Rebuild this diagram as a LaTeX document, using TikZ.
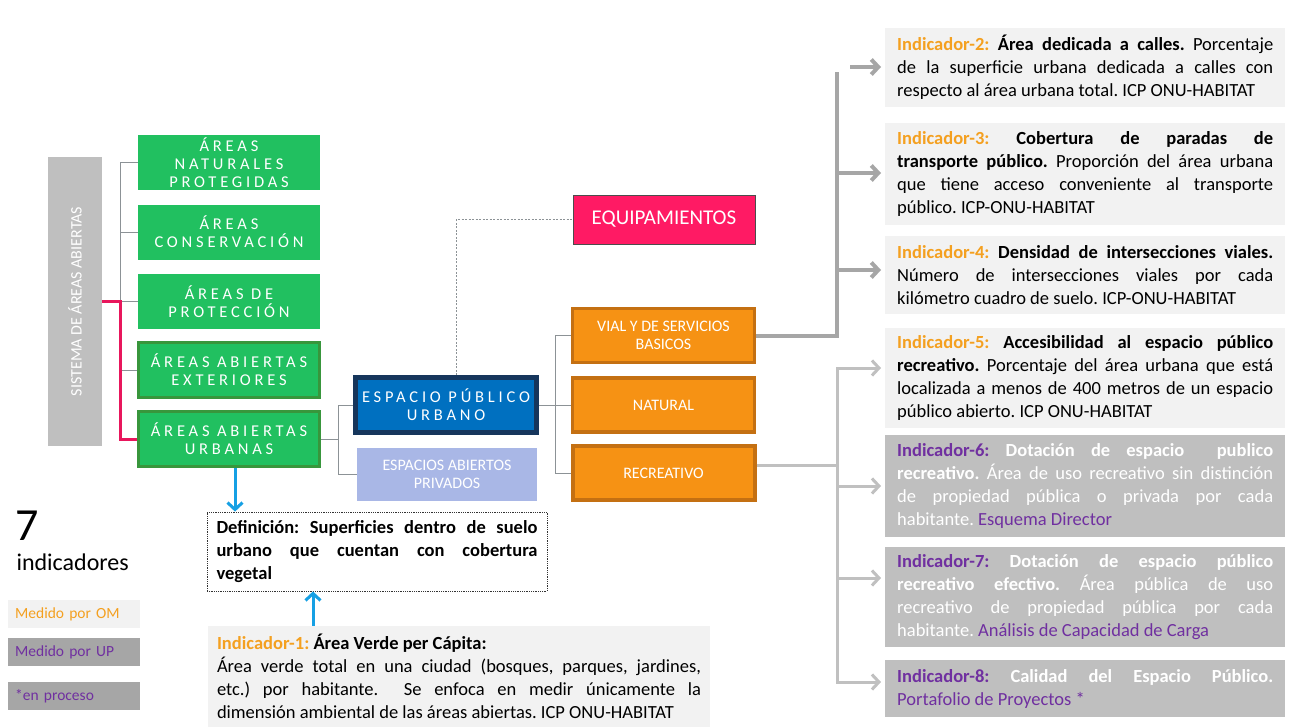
\documentclass[tikz,border=0pt]{standalone}
\usepackage{fontspec}
\setmainfont{Carlito}
\newfontfamily\spacedfont[LetterSpace=23]{Carlito}
\usetikzlibrary{arrows.meta}
\setlength{\parindent}{0pt}
\tolerance=10000
\hbadness=10000
\frenchspacing

\definecolor{grnfill}{RGB}{33,192,96}
\definecolor{grnedge}{RGB}{56,150,60}
\definecolor{orgfill}{RGB}{246,146,20}
\definecolor{orgedge}{RGB}{196,112,18}
\definecolor{bluein}{RGB}{0,112,192}
\definecolor{navy}{RGB}{22,54,92}
\definecolor{lavender}{RGB}{169,183,230}
\definecolor{hotpink}{RGB}{255,26,100}
\definecolor{magline}{RGB}{232,22,92}
\definecolor{sysgray}{RGB}{191,191,191}
\definecolor{lightbox}{RGB}{242,242,242}
\definecolor{darkbox}{RGB}{191,191,191}
\definecolor{legdark}{RGB}{166,166,166}
\definecolor{indorange}{RGB}{244,160,32}
\definecolor{indpurple}{RGB}{112,48,160}
\definecolor{thinline}{RGB}{140,146,150}
\definecolor{trunkA}{RGB}{166,166,166}
\definecolor{trunkB}{RGB}{192,192,192}
\definecolor{skyarrow}{RGB}{22,160,228}

\newcommand\indtext{\fontsize{18.5}{23}\selectfont\frenchspacing}
\newcommand\orn[1]{\textcolor{indorange}{#1}}
\newcommand\prp[1]{\textcolor{indpurple}{#1}}

\tikzset{
  sysbox/.style={fill=sysgray, minimum width=54pt, minimum height=289pt, inner sep=0pt},
  gbox/.style={fill=grnfill, minimum width=182pt, minimum height=55pt, inner sep=0pt,
    text=white, align=center, font=\spacedfont\fontsize{16.5}{18}\selectfont},
  gboxe/.style={gbox, draw=grnedge, line width=3pt, minimum width=181pt, minimum height=55pt},
  obox/.style={fill=orgfill, draw=orgedge, line width=3.5pt, minimum width=182pt,
    minimum height=54pt, inner sep=0pt, text=white, align=center,
    font=\fontsize{16}{18}\selectfont},
  thinconn/.style={draw=thinline, line width=1pt},
  pinkconn/.style={draw=magline, line width=3pt, line join=miter},
  dashconn/.style={draw=thinline, line width=0.8pt, dash pattern=on 2pt off 1.5pt},
  lineA/.style={draw=trunkA, line width=4pt, line join=miter},
  arrA/.style={lineA, -{Straight Barb[length=7pt,width=15pt]}, shorten >=4pt},
  lineB/.style={draw=trunkB, line width=3pt, line join=miter},
  arrB/.style={lineB, -{Straight Barb[length=7pt,width=15pt]}, shorten >=4pt},
  skyarr/.style={draw=skyarrow, line width=3pt, -{Straight Barb[length=7pt,width=15pt]}},
  ind/.style={anchor=north west, text width=376pt, inner xsep=12pt, inner ysep=0pt,
    align=justify, font=\indtext},
  indlight/.style={ind, fill=lightbox},
  inddark/.style={ind, fill=darkbox, text=white},
  legbox/.style={anchor=north west, text width=118pt, inner xsep=7pt, inner ysep=0pt,
    minimum height=28pt, align=left, font=\fontsize{15.5}{18}\selectfont}
}

\begin{document}
\begin{tikzpicture}[x=1pt,y=-1pt]
\fill[white] (0,0) rectangle (1291,728);
\useasboundingbox (0,0) rectangle (1291,728);

% ---- system column and green categories
\node[sysbox] (sys) at (75,301.5) {};
\node[rotate=90, text=white, font=\fontsize{16}{18}\selectfont] (syslabel) at (sys.center) {SISTEMA DE ÁREAS ABIERTAS};

\node[gbox] (g1) at (229,162.5) {ÁREAS\\NATURALES\\PROTEGIDAS};
\node[gbox] (g2) at (229,232) {ÁREAS\\CONSERVACIÓN};
\node[gbox] (g3) at (229,301.5) {ÁREAS DE\\PROTECCIÓN};
\node[gboxe] (g4) at (229,370) {ÁREAS ABIERTAS\\EXTERIORES};
\node[gboxe] (g5) at (229,439) {ÁREAS ABIERTAS\\URBANAS};

\coordinate (lt) at (120,0);
\draw[thinconn] (g1.west) -| (lt |- g4.west) -- (g4.west);
\draw[thinconn] (lt |- g2.west) -- (g2.west);
\draw[thinconn] (lt |- g3.west) -- (g3.west);
\draw[pinkconn] (sys.east) -| (lt |- g5.west) -- (g5.west);

% ---- urban public space branch
\node[fill=bluein, draw=navy, line width=5pt, minimum width=181pt, minimum height=55pt,
      inner sep=0pt, text=white, align=center,
      font=\spacedfont\fontsize{16.5}{18}\selectfont] (esp) at (446,405) {ESPACIO PÚBLICO\\URBANO};
\node[fill=lavender, minimum width=180pt, minimum height=53pt, inner sep=0pt, text=white,
      align=center, font=\fontsize{16}{18}\selectfont] (priv) at (447,474) {ESPACIOS ABIERTOS\\PRIVADOS};
\node[fill=hotpink, draw=black!70, line width=1pt, minimum width=182pt, minimum height=49pt,
      inner sep=0pt, text=white, font=\fontsize{21}{24}\selectfont] (equip) at (664,219.5) {EQUIPAMIENTOS};

\coordinate (mt) at (338,0);
\draw[thinconn] (g5.east) -- (mt |- g5.east);
\draw[thinconn] (esp.west) -| (mt |- priv.west) -- (priv.west);
\draw[dashconn] ([xshift=10pt]esp.north) |- (equip.west);

\node[obox] (vial) at (663.5,335.5) {VIAL Y DE SERVICIOS\\BASICOS};
\node[obox] (nat) at (663.5,405) {NATURAL};
\node[obox, line width=4pt] (rec) at (663.5,473) {RECREATIVO};

\coordinate (rt) at (555,0);
\draw[thinconn] (esp.east) -- (nat.west);
\draw[thinconn] (vial.west) -| (rt |- rec.west) -- (rec.west);

% ---- definition and indicator 1
\node[draw=black!80, line width=0.8pt, densely dotted, minimum width=340pt, minimum height=79pt,
      text width=321pt, inner xsep=9.5pt, align=justify,
      font=\bfseries\indtext] (def) at (377,551.5)
      {Definición: Superficies dentro de suelo\linebreak urbano que cuentan con cobertura\linebreak vegetal};

\node[fill=lightbox, minimum width=502pt, minimum height=101pt, text width=484pt, inner xsep=9pt,
      inner ysep=0pt, align=justify, font=\indtext] (ind1) at (459,676.5)
      {\textbf{\orn{Indicador-1:} Área Verde per Cápita:}\par
       Área verde total en una ciudad (bosques, parques, jardines,\linebreak etc.) por habitante.~~Se enfoca en medir únicamente la\linebreak dimensión ambiental de las áreas abiertas. ICP ONU-HABITAT};

\draw[skyarr] ([xshift=6pt]g5.south) -- ([xshift=6pt]g5.south |- def.north);
\coordinate (ua) at (313,0);
\draw[skyarr] (ua |- ind1.north) -- (ua |- def.south);

% ---- legend
\node[anchor=base west, font=\fontsize{46}{46}\selectfont] (seven) at (12,540) {7};
\node[anchor=base west, font=\fontsize{24}{26}\selectfont] (indic) at (13,570) {indicadores};
\node[legbox, fill=lightbox, text=indorange] (leg1) at (8,600) {Medido por OM};
\node[legbox, fill=legdark, text=indpurple] (leg2) at (8,638) {Medido por UP};
\node[legbox, fill=legdark, text=indpurple] (leg3) at (8,682) {*en proceso};

% ---- indicators 2 to 8
\node[indlight, minimum height=79pt] (i2) at (885,28)
  {\textbf{\orn{Indicador-2:} Área dedicada a calles.} Porcentaje\linebreak de la superficie urbana dedicada a calles con\linebreak respecto al área urbana total. ICP ONU-HABITAT};
\node[indlight, minimum height=102pt] (i3) at (885,123)
  {\textbf{\orn{Indicador-3:} Cobertura de paradas de\linebreak transporte público.} Proporción del área urbana\linebreak que tiene acceso conveniente al transporte\linebreak público. ICP-ONU-HABITAT};
\node[indlight, minimum height=78pt] (i4) at (885,236)
  {\textbf{\orn{Indicador-4:} Densidad de intersecciones viales.}\linebreak Número de intersecciones viales por cada\linebreak kilómetro cuadro de suelo. ICP-ONU-HABITAT};
\node[indlight, minimum height=100pt] (i5) at (885,328)
  {\textbf{\orn{Indicador-5:} Accesibilidad al espacio público\linebreak recreativo.} Porcentaje del área urbana que está\linebreak localizada a menos de 400 metros de un espacio\linebreak público abierto. ICP ONU-HABITAT};
\node[inddark, minimum height=102pt] (i6) at (885,435)
  {\textbf{\prp{Indicador-6:} Dotación de espacio~~publico\linebreak recreativo.} Área de uso recreativo sin distinción\linebreak de propiedad pública o privada por cada\linebreak habitante. \prp{Esquema Director}};
\node[inddark, minimum height=100pt] (i7) at (885,547)
  {\textbf{\prp{Indicador-7:} Dotación de espacio público\linebreak recreativo efectivo.} Área pública de uso\linebreak recreativo de propiedad pública por cada\linebreak habitante. \prp{Análisis de Capacidad de Carga}};
\node[inddark, minimum height=57pt] (i8) at (885,660)
  {\textbf{\prp{Indicador-8:} Calidad del Espacio Público.}\linebreak \prp{Portafolio de Proyectos *}};

% ---- connectors from the road branch
\coordinate (atop) at (837,72);
\coordinate (a2) at (850,67);
\coordinate (a3) at (837,173);
\coordinate (a4) at (837,270);
\draw[lineA] (vial.east) -| (atop);
\draw[arrA] (a2) -- (a2 -| i2.west);
\draw[arrA] (a3) -- (a3 -| i3.west);
\draw[arrA] (a4) -- (a4 -| i4.west);

% ---- connectors from the recreation branch
\coordinate (btop) at (837,368);
\coordinate (bmid) at (837,465);
\coordinate (bbot) at (837,682);
\coordinate (b6) at (837,486);
\coordinate (b7) at (837,578);
\draw[lineB] ([yshift=8pt]rec.east) -- (bmid);
\draw[lineB, {Straight Barb[length=7pt,width=15pt]}-{Straight Barb[length=7pt,width=15pt]},
      shorten <=4pt, shorten >=4pt] (btop -| i5.west) -- (btop) -- (bbot) -- (bbot -| i8.west);
\draw[arrB] (b6) -- (b6 -| i6.west);
\draw[arrB] (b7) -- (b7 -| i7.west);
\end{tikzpicture}
\end{document}
